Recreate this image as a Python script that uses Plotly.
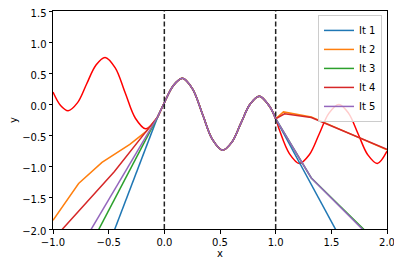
import plotly.graph_objects as go

# True function
true_x = [-1.0, -0.932, -0.864, -0.781, -0.698, -0.615, -0.532, -0.441, -0.351, -0.260, -0.169,
          -0.086, -0.06, -0.003, 0.080, 0.163, 0.253, 0.343, 0.433, 0.523, 0.606, 0.688, 0.771,
          0.853, 0.943, 1.0, 1.033, 1.123, 1.213, 1.302, 1.391, 1.479, 1.568, 1.654, 1.741,
          1.827, 1.913, 2.0]
true_y = [0.20, -0.016, -0.10, 0.025, 0.328, 0.630, 0.755, 0.587, 0.183, -0.222, -0.39,
          -0.271, -0.20, 0.015, 0.301, 0.42, 0.251, -0.157, -0.565, -0.734, -0.607, -0.301, 0.006,
          0.133, -0.025, -0.23, -0.407, -0.789, -0.947, -0.808, -0.474, -0.139, 0.0, -0.139, -0.474,
          -0.808, -0.947, -0.75]

labels = ["It 1", "It 2", "It 3", "It 4", "It 5"]
colors = ["#1f77b4", "#ff7f0e", "#2ca02c", "#d62728", "#9467bd"]

# extrapolation to the left of the interval
left_x = [
    [-1.0, -0.06],
    [-1.0, -0.77, -0.56, -0.31, -0.16, -0.06],
    [-1.0, -0.06],
    [-1.0, -0.45, -0.06],
    [-1.0, -0.06],
]
left_y = [
    [-4.6, -0.20],
    [-1.86, -1.27, -0.93, -0.64, -0.43, -0.20],
    [-3.41, -0.20],
    [-2.17, -1.08, -0.20],
    [-3.04, -0.20],
]
# extrapolation to the right of the interval
right_x = [
    [1.0, 2.0],
    [1.0, 1.07, 1.32, 2.0],
    [1.0, 1.32, 2.0],
    [1.0, 1.08, 1.32, 2.0],
    [1.0, 1.32, 2.0],
]
right_y = [
    [-0.23, -3.53],
    [-0.23, -0.12, -0.20, -0.73],
    [-0.23, -1.18, -2.37],
    [-0.23, -0.15, -0.21, -0.72],
    [-0.23, -1.18, -2.40],
]
boundaries = [0.0, 1.0]

x_ticks = [-1.0, -0.5, 0.0, 0.5, 1.0, 1.5, 2.0]
y_ticks = [-2.0, -1.5, -1.0, -0.5, 0.0, 0.5, 1.0, 1.5]

fig = go.Figure()
fig.add_trace(go.Scatter(x=true_x, y=true_y, mode="lines", line=dict(color="#ff0000", width=1.5, shape="spline"),
                         showlegend=False, hoverinfo="skip"))

mid_x = [xv for xv in true_x if -0.06 <= xv <= 1.0]
mid_y = [yv for xv, yv in zip(true_x, true_y) if -0.06 <= xv <= 1.0]

for i in range(5):
    ox = left_x[i] + [None] + right_x[i]
    oy = left_y[i] + [None] + right_y[i]
    fig.add_trace(go.Scatter(x=ox, y=oy, mode="lines", line=dict(color=colors[i], width=1.5),
                             showlegend=False, connectgaps=False))
    fig.add_trace(go.Scatter(x=mid_x, y=mid_y, mode="lines", name=labels[i],
                             line=dict(color=colors[i], width=1.5, shape="spline")))

for b in boundaries:
    fig.add_vline(x=b, line=dict(color="#222222", width=1.5, dash="5px,2.5px"))

axis_common = dict(showgrid=False, zeroline=False, showline=True, linecolor="black", linewidth=1,
                   mirror=True, ticks="outside", ticklen=3.5, tickwidth=1, tickcolor="black",
                   tickfont=dict(size=10, color="black", family="DejaVu Sans"), tickformat=".1f",
                   automargin=False, ticklabeloverflow="allow")

# page body has an 8px default margin; compensate so the plot area lands where the reference has it
fig.update_layout(
    width=394, height=258,
    margin=dict(l=45, r=15, t=3, b=37),
    plot_bgcolor="white", paper_bgcolor="white",
    font=dict(family="DejaVu Sans", size=10, color="black"),
    xaxis=dict(range=[-1, 2], tickvals=x_ticks, title=dict(text="x", standoff=2, font=dict(size=10)), **axis_common),
    yaxis=dict(range=[-2, 1.5], tickvals=y_ticks, ticklabelshift=2,
               title=dict(text="y", standoff=4, font=dict(size=10)), **axis_common),
    legend=dict(x=0.985, y=0.982, xanchor="right", yanchor="top", bgcolor="rgba(255,255,255,0.8)",
                bordercolor="#cccccc", borderwidth=1, font=dict(size=10), tracegroupgap=0, itemwidth=30),
)

fig.write_html("out.html")
